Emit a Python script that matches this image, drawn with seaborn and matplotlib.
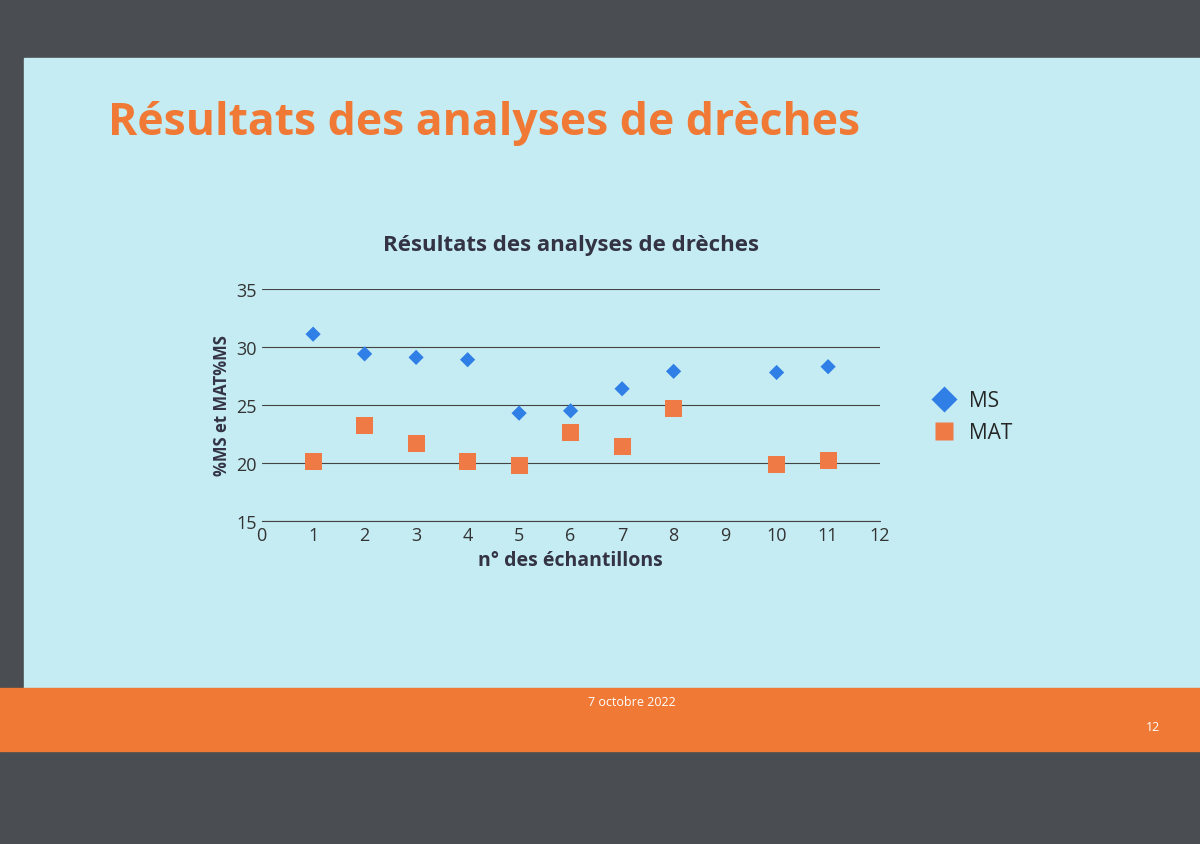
import matplotlib.pyplot as plt
import seaborn as sns
import pandas as pd
from matplotlib.patches import Rectangle

samples = [1, 2, 3, 4, 5, 6, 7, 8, 10, 11]
ms_values = [31.1, 29.4, 29.1, 28.9, 24.3, 24.5, 26.4, 27.9, 27.8, 28.3]
mat_values = [20.1, 23.2, 21.7, 20.1, 19.8, 22.6, 21.4, 24.7, 19.9, 20.2]

df = pd.DataFrame({
    'n': samples * 2,
    'val': ms_values + mat_values,
    'serie': ['MS'] * len(samples) + ['MAT'] * len(samples),
})

sns.set_style("white")
plt.rcParams['font.family'] = ['Open Sans', 'DejaVu Sans']

fig = plt.figure(figsize=(12, 8.45), dpi=100)
fig.patch.set_facecolor('#4a4d52')

# slide background
fig.patches.append(Rectangle((0.02, 0.13), 0.98, 0.8, transform=fig.transFigure,
                             color='#c4ecf2', zorder=-10))
fig.patches.append(Rectangle((0.0, 0.11), 1.0, 0.075, transform=fig.transFigure,
                             color='#f07a35', zorder=-10))
fig.text(0.09, 0.84, 'Résultats des analyses de drèches', fontsize=32,
         fontweight='bold', color='#f07a35')
fig.text(0.49, 0.165, '7 octobre 2022', fontsize=9, color='white')
fig.text(0.955, 0.135, '12', fontsize=9, color='white')

ax = fig.add_axes([0.218, 0.382, 0.515, 0.275])
ax.set_zorder(5)
ax.set_facecolor('#c4ecf2')
sns.scatterplot(data=df, x='n', y='val', hue='serie', style='serie',
                markers={'MS': 'D', 'MAT': 's'},
                palette={'MS': '#2f7fe6', 'MAT': '#f07a45'},
                s=110, edgecolor='none', ax=ax)
ax.collections[0].set_sizes([60] * len(samples) + [150] * len(samples))

ax.set_xlim(0, 12)
ax.set_ylim(15, 35)
ax.set_xticks(range(0, 13))
ax.set_yticks([15, 20, 25, 30, 35])
ax.grid(axis='y', color='#444444', linewidth=0.8)
for s in ['top', 'right', 'left']:
    ax.spines[s].set_visible(False)
ax.spines['bottom'].set_color('#444444')
ax.tick_params(labelsize=13, colors='#333333', length=0)
ax.set_xlabel('n° des échantillons', fontsize=14, fontweight='bold', color='#333344')
ax.set_ylabel('%MS et MAT%MS', fontsize=12, fontweight='bold', color='#333344')
ax.set_title('Résultats des analyses de drèches', fontsize=16, fontweight='bold',
             color='#333344', pad=28)

handles, labels = ax.get_legend_handles_labels()
ax.legend(handles, labels, loc='center left', bbox_to_anchor=(1.04, 0.45),
          frameon=False, fontsize=15, handletextpad=0.2, markerscale=1.3)

fig.savefig('out.png', dpi=100, facecolor=fig.get_facecolor())
